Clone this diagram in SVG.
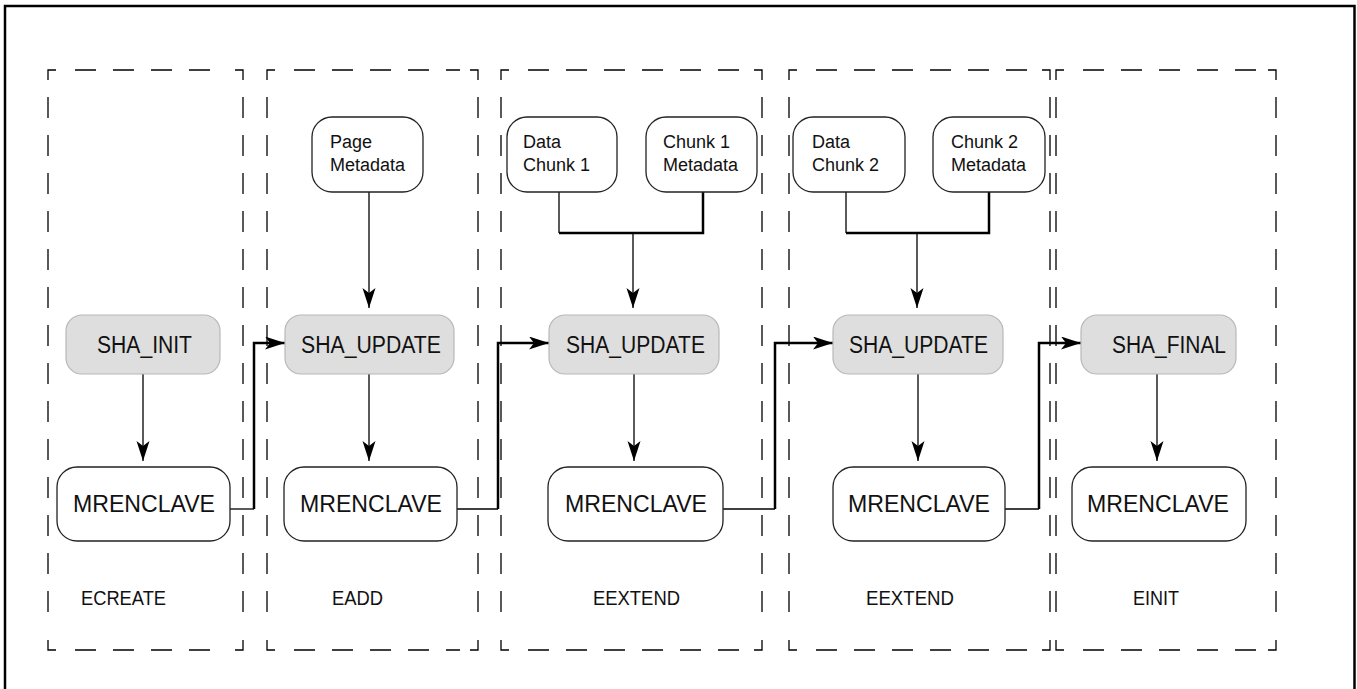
<svg xmlns="http://www.w3.org/2000/svg" width="1357" height="689" viewBox="0 0 1357 689">
<style>
.frame{fill:none;stroke:#000;stroke-width:2.5}
.dash{fill:none;stroke:#000;stroke-width:1.3;stroke-dasharray:21 17}
.corner{fill:none;stroke:#000;stroke-width:1.3}
.gray{fill:#dedede;stroke:#b8b8b8;stroke-width:1.2}
.white{fill:#fff;stroke:#222;stroke-width:1.3}
.t{font-family:"Liberation Sans",Arial,sans-serif;fill:#111}
.big{font-size:24.5px}
.mid{font-size:23.5px}
.sm{font-size:18px}
.lab{font-size:20px}
.thin{fill:none;stroke:#000;stroke-width:1.3}
.thick{fill:none;stroke:#000;stroke-width:2.5}
</style>
<defs>
<marker id="ah" markerUnits="userSpaceOnUse" markerWidth="22" markerHeight="14" refX="20" refY="6.5" orient="auto">
<path d="M0,0 L20,6.5 L0,13 L5,6.5 Z" fill="#000"/>
</marker>
</defs>
<rect class="frame" x="5" y="6" width="1349.5" height="700"/>
<g id="stages">
<g id="box-ecreate">
<path class="corner" d="M56,70 H48 V80 M235,70 H243 V80 M48,640 V650 H56 M243,640 V650 H235"/>
<path class="dash" d="M75,70 H225 M75,650 H225 M48,97 V625 M243,97 V625"/>
</g>
<g id="box-eadd">
<path class="corner" d="M275,70 H267 V80 M470,70 H478 V80 M267,640 V650 H275 M478,640 V650 H470"/>
<path class="dash" d="M294,70 H460 M294,650 H460 M267,97 V625 M478,97 V625"/>
</g>
<g id="box-eextend1">
<path class="corner" d="M509,70 H501 V80 M754,70 H762 V80 M501,640 V650 H509 M762,640 V650 H754"/>
<path class="dash" d="M528,70 H745 M528,650 H745 M501,97 V625 M762,97 V625"/>
</g>
<g id="box-eextend2">
<path class="corner" d="M797,70 H789 V80 M1042,70 H1050 V80 M789,640 V650 H797 M1050,640 V650 H1042"/>
<path class="dash" d="M816,70 H1033 M816,650 H1033 M789,97 V625 M1050,97 V625"/>
</g>
<g id="box-einit">
<path class="corner" d="M1064,70 H1056 V80 M1268,70 H1276 V80 M1056,640 V650 H1064 M1276,640 V650 H1268"/>
<path class="dash" d="M1083,70 H1258 M1083,650 H1258 M1056,97 V625 M1276,97 V625"/>
</g>
<text class="t lab" x="81" y="605" textLength="85" lengthAdjust="spacingAndGlyphs">ECREATE</text>
<text class="t lab" x="332" y="605" textLength="51" lengthAdjust="spacingAndGlyphs">EADD</text>
<text class="t lab" x="593" y="605" textLength="87" lengthAdjust="spacingAndGlyphs">EEXTEND</text>
<text class="t lab" x="866" y="605" textLength="88" lengthAdjust="spacingAndGlyphs">EEXTEND</text>
<text class="t lab" x="1133" y="605" textLength="46" lengthAdjust="spacingAndGlyphs">EINIT</text>
</g>
<g id="connectors">
<path class="thin" d="M143,374 V461" marker-end="url(#ah)"/>
<path class="thin" d="M369,374 V461" marker-end="url(#ah)"/>
<path class="thin" d="M634,374 V461" marker-end="url(#ah)"/>
<path class="thin" d="M918,374 V461" marker-end="url(#ah)"/>
<path class="thin" d="M1157,374 V461" marker-end="url(#ah)"/>
<path class="thin" d="M369,192 V308" marker-end="url(#ah)"/>
<path class="thin" d="M559,192 V233"/>
<path class="thick" d="M703,192 V233 H559"/>
<path class="thin" d="M633,233 V308" marker-end="url(#ah)"/>
<path class="thin" d="M846,192 V233"/>
<path class="thick" d="M989,192 V233 H846"/>
<path class="thin" d="M917,233 V308" marker-end="url(#ah)"/>
<path class="thin" d="M230,509 H254"/>
<path class="thick" d="M254,509 V343 H285" marker-end="url(#ah)"/>
<path class="thin" d="M457,509 H498"/>
<path class="thick" d="M498,509 V343 H549" marker-end="url(#ah)"/>
<path class="thin" d="M723,509 H775"/>
<path class="thick" d="M775,509 V343 H833" marker-end="url(#ah)"/>
<path class="thin" d="M1005,509 H1039"/>
<path class="thick" d="M1039,509 V343 H1081" marker-end="url(#ah)"/>
</g>
<g id="sha-init"><rect class="gray" x="66" y="315" width="154" height="59" rx="16"/><text class="t mid" x="97" y="353" textLength="95" lengthAdjust="spacingAndGlyphs">SHA_INIT</text></g>
<g id="sha-update-1"><rect class="gray" x="285" y="315" width="169" height="59" rx="16"/><text class="t mid" x="301" y="353" textLength="140" lengthAdjust="spacingAndGlyphs">SHA_UPDATE</text></g>
<g id="sha-update-2"><rect class="gray" x="549" y="315" width="170" height="59" rx="16"/><text class="t mid" x="566" y="353" textLength="139" lengthAdjust="spacingAndGlyphs">SHA_UPDATE</text></g>
<g id="sha-update-3"><rect class="gray" x="833" y="315" width="170" height="59" rx="16"/><text class="t mid" x="849" y="353" textLength="139" lengthAdjust="spacingAndGlyphs">SHA_UPDATE</text></g>
<g id="sha-final"><rect class="gray" x="1081" y="315" width="155" height="59" rx="16"/><text class="t mid" x="1112" y="353" textLength="114" lengthAdjust="spacingAndGlyphs">SHA_FINAL</text></g>
<g id="mrenclave-1"><rect class="white" x="57" y="467" width="173" height="74" rx="20"/><text class="t big" x="73" y="512" textLength="142" lengthAdjust="spacingAndGlyphs">MRENCLAVE</text></g>
<g id="mrenclave-2"><rect class="white" x="284" y="467" width="173" height="74" rx="20"/><text class="t big" x="300" y="512" textLength="142" lengthAdjust="spacingAndGlyphs">MRENCLAVE</text></g>
<g id="mrenclave-3"><rect class="white" x="548" y="467" width="175" height="74" rx="20"/><text class="t big" x="565" y="512" textLength="142" lengthAdjust="spacingAndGlyphs">MRENCLAVE</text></g>
<g id="mrenclave-4"><rect class="white" x="833" y="467" width="172" height="74" rx="20"/><text class="t big" x="848" y="512" textLength="142" lengthAdjust="spacingAndGlyphs">MRENCLAVE</text></g>
<g id="mrenclave-5"><rect class="white" x="1072" y="467" width="174" height="74" rx="20"/><text class="t big" x="1087" y="512" textLength="142" lengthAdjust="spacingAndGlyphs">MRENCLAVE</text></g>
<g id="page-metadata"><rect class="white" x="312" y="117" width="111" height="75" rx="20"/><text class="t sm" x="330" y="148">Page</text><text class="t sm" x="330" y="171">Metadata</text></g>
<g id="data-chunk-1"><rect class="white" x="507" y="117" width="110" height="75" rx="20"/><text class="t sm" x="523" y="148">Data</text><text class="t sm" x="523" y="171">Chunk 1</text></g>
<g id="chunk-1-metadata"><rect class="white" x="646" y="117" width="111" height="75" rx="20"/><text class="t sm" x="663" y="148">Chunk 1</text><text class="t sm" x="663" y="171">Metadata</text></g>
<g id="data-chunk-2"><rect class="white" x="793" y="117" width="112" height="75" rx="20"/><text class="t sm" x="812" y="148">Data</text><text class="t sm" x="812" y="171">Chunk 2</text></g>
<g id="chunk-2-metadata"><rect class="white" x="933" y="117" width="112" height="75" rx="20"/><text class="t sm" x="951" y="148">Chunk 2</text><text class="t sm" x="951" y="171">Metadata</text></g>
</svg>
